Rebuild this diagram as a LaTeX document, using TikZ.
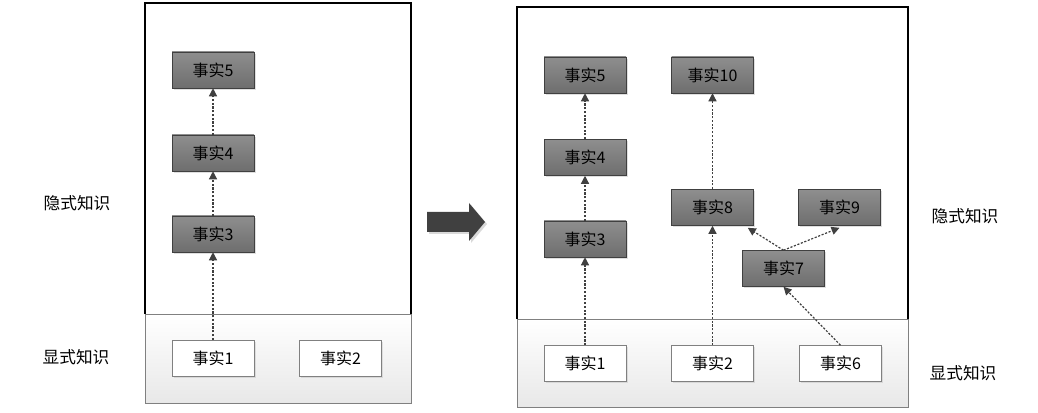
\documentclass[tikz,border=0pt]{standalone}
\usepackage{fontspec}
\setmainfont{Noto Sans CJK SC}
\usepackage{xcolor}
\usepackage{tikz}
\usetikzlibrary{arrows.meta, positioning, shadows}

\definecolor{darkfact}{HTML}{6E6E6E}
\definecolor{lightfact}{HTML}{8E8E8E}
\definecolor{edgegray}{HTML}{404040}

\begin{document}
\begin{tikzpicture}[
  x=0.75pt, y=-0.75pt,
  implicit/.style={rectangle, draw=edgegray, top color=lightfact, bottom color=darkfact,
    minimum width=61.5pt, minimum height=27pt, inner sep=0pt,
    font=\fontsize{12}{14}\selectfont,
    drop shadow={opacity=0.25, shadow xshift=1.2pt, shadow yshift=-1.2pt}},
  explicit/.style={rectangle, draw=gray, fill=white,
    minimum width=61.5pt, minimum height=27pt, inner sep=0pt,
    font=\fontsize{12}{14}\selectfont,
    drop shadow={opacity=0.2, shadow xshift=1.2pt, shadow yshift=-1.2pt}},
  tag/.style={font=\fontsize{12.5}{14}\selectfont},
  arrow/.style={-{Triangle[length=6pt, width=6pt]}, edgegray, line width=0.9pt,
    dash pattern=on 1.6pt off 1.2pt}
]
  \useasboundingbox (0,0) rectangle (1038,413);

  % left panel
  \draw[gray, top color=white, bottom color=gray!18] (145,314) rectangle (411,403);
  \draw[black, line width=1.5pt, fill=white] (145,314) -- (145,3) -- (411,3) -- (411,314);
  \draw[gray] (145,314) -- (411,314);

  \node[implicit] (l5) at (213,70) {事实5};
  \node[implicit] (l4) at (213,153) {事实4};
  \node[implicit] (l3) at (213,234) {事实3};
  \node[explicit] (l1) at (213,358) {事实1};
  \node[explicit] (l2) at (340.5,358) {事实2};

  \draw[arrow] (l1) -- (l3);
  \draw[arrow] (l3) -- (l4);
  \draw[arrow] (l4) -- (l5);

  \node[tag] (limp) at (77,203) {隐式知识};
  \node[tag] (lexp) at (76,357) {显式知识};

  % big arrow
  \fill[black, opacity=0.15] (429,214) -- (471,214) -- (471,205) -- (487,224) -- (471,243) -- (471,234) -- (429,234) -- cycle;
  \fill[edgegray] (427,212) -- (469,212) -- (469,203) -- (485,222) -- (469,241) -- (469,232) -- (427,232) -- cycle;

  % right panel
  \draw[gray, top color=white, bottom color=gray!18] (517,319) rectangle (908,407);
  \draw[black, line width=1.5pt, fill=white] (517,319) -- (517,7) -- (908,7) -- (908,319);
  \draw[gray] (517,319) -- (908,319);

  \node[implicit] (r5) at (585,75) {事实5};
  \node[implicit] (r10) at (712.5,75) {事实10};
  \node[implicit] (r4) at (585,157.5) {事实4};
  \node[implicit] (r3) at (585,239) {事实3};
  \node[implicit] (r8) at (712.5,207.5) {事实8};
  \node[implicit] (r9) at (839.5,207.5) {事实9};
  \node[implicit] (r7) at (783.5,268.5) {事实7};
  \node[explicit] (r1) at (585,363.5) {事实1};
  \node[explicit] (r2) at (712.5,363.5) {事实2};
  \node[explicit] (r6) at (840.5,363.5) {事实6};

  \draw[arrow] (r1) -- (r3);
  \draw[arrow] (r3) -- (r4);
  \draw[arrow] (r4) -- (r5);
  \draw[arrow] (r2) -- (r8);
  \draw[arrow] (r8) -- (r10);
  \draw[arrow] (r6.north) -- (r7.south);
  \draw[arrow] (r7.north) -- ([xshift=-4.5pt, yshift=-1.5pt]r8.south east);
  \draw[arrow] (r7.north) -- ([yshift=-1.5pt]r9.south);

  \node[tag] (rimp) at (965,216) {隐式知识};
  \node[tag] (rexp) at (963,373) {显式知识};
\end{tikzpicture}
\end{document}
